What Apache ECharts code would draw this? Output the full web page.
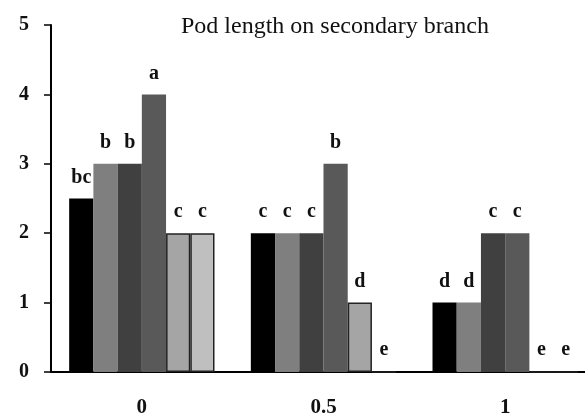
<!DOCTYPE html>
<html>
<head>
<meta charset="utf-8">
<script src="https://cdn.jsdelivr.net/npm/echarts@6/dist/echarts.min.js"></script>
<style>html,body{margin:0;padding:0;background:#fff;}#c{width:585px;height:419px;}</style>
</head>
<body>
<div id="c"></div>
<script>
var categories = ['0', '0.5', '1'];
var s1 = [2.5, 2, 1];
var s2 = [3, 2, 1];
var s3 = [3, 2, 2];
var s4 = [4, 3, 2];
var s5 = [2, 1, 0];
var s6 = [2, 0, 0];
var l1 = ['bc', 'c', 'd'];
var l2 = ['b', 'c', 'd'];
var l3 = ['b', 'c', 'c'];
var l4 = ['a', 'b', 'c'];
var l5 = ['c', 'd', 'e'];
var l6 = ['c', 'e', 'e'];
var yTicks = [0, 1, 2, 3, 4, 5];
var titleText = 'Pod length on secondary branch';

var values = [s1, s2, s3, s4, s5, s6];
var letters = [l1, l2, l3, l4, l5, l6];
var colors = ['#000000', '#7f7f7f', '#404040', '#595959', '#a5a5a5', '#bfbfbf'];
var borders = [null, null, null, null, '#222', '#222'];
var serif = '"Liberation Serif", "DejaVu Serif", serif';

var series = values.map(function (v, i) {
  return {
    type: 'bar',
    data: v,
    barGap: '0%',
    barCategoryGap: '20%',
    itemStyle: {
      color: colors[i],
      borderColor: borders[i] || colors[i],
      borderWidth: borders[i] ? 1.5 : 0
    },
    label: {
      show: true,
      position: 'top',
      distance: 11,
      fontFamily: serif,
      fontWeight: 'bold',
      fontSize: 20,
      color: '#111',
      formatter: function (p) { return letters[i][p.dataIndex]; }
    },
    animation: false
  };
});

var chart = echarts.init(document.getElementById('c'));
chart.setOption({
  animation: false,
  backgroundColor: '#fff',
  title: {
    text: titleText,
    left: 176,
    top: 10,
    textStyle: { fontFamily: serif, fontWeight: 'normal', fontSize: 24, color: '#111' }
  },
  grid: { left: 51, width: 545, top: 25, bottom: 47, outerBoundsMode: 'none' },
  xAxis: {
    type: 'category',
    data: categories,
    axisLine: { lineStyle: { color: '#000', width: 2 } },
    axisTick: { show: false },
    axisLabel: { margin: 25, fontFamily: serif, fontWeight: 'bold', fontSize: 21, color: '#111' }
  },
  yAxis: {
    type: 'value',
    min: yTicks[0],
    max: yTicks[yTicks.length - 1],
    interval: 1,
    splitLine: { show: false },
    axisLine: { show: true, lineStyle: { color: '#000', width: 2 } },
    axisTick: { show: true, length: 7, lineStyle: { color: '#000', width: 1.5 } },
    axisLabel: { margin: 22, fontFamily: serif, fontWeight: 'bold', fontSize: 20, color: '#111' }
  },
  series: series
});
</script>
</body>
</html>
